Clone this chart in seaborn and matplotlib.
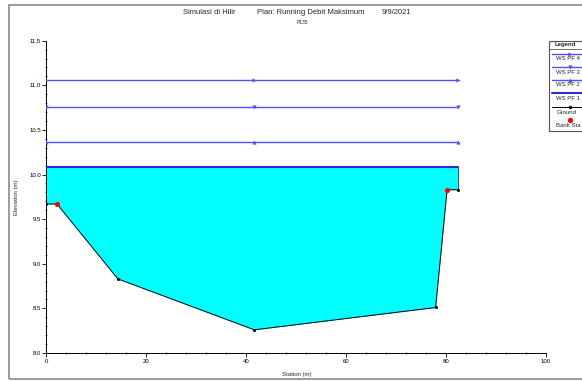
import matplotlib
matplotlib.use("Agg")
import matplotlib.pyplot as plt
import matplotlib.lines as mlines
import matplotlib.patches as mpatches
from matplotlib.ticker import MultipleLocator
import seaborn as sns

# Cross section geometry (station m, elevation m)
station = [0.0, 2.1, 14.3, 41.6, 77.9, 80.2, 82.4]
ground = [9.67, 9.67, 8.83, 8.26, 8.51, 9.83, 9.83]

# Bank stations
bank_station = [2.1, 80.2]
bank_elev = [9.67, 9.83]

# Water surface profiles
ws_station = [0.0, 41.6, 82.4]
ws_names = ["WS PF 4", "WS PF 3", "WS PF 2", "WS PF 1"]
ws_elev = [11.06, 10.76, 10.37, 10.08]
ws_markers = [">", "v", "^", None]

W, H = 582, 381
sns.set_theme(style="white")
plt.rcParams["font.family"] = ["Liberation Sans", "DejaVu Sans"]

fig = plt.figure(figsize=(W / 100, H / 100), dpi=100)
ax = fig.add_axes([46.5 / W, 1 - 353 / H, (546 - 46.5) / W, (353 - 40.7) / H])


def px(x, y):
    return x / W, 1 - y / H


# water body below the lowest profile
ax.fill_between(station, ground, ws_elev[-1], color="#00ffff", linewidth=0, zorder=1)
ax.vlines(station[-1], ground[-1], ws_elev[-1], color="#333333", lw=0.6, zorder=2)

ws_colors = ["#5050ff", "#5050ff", "#5050ff", "#2a2ad8"]
ws_widths = [1.0, 1.0, 1.0, 1.5]
for name, elev, mk, col, lw in zip(ws_names, ws_elev, ws_markers, ws_colors, ws_widths):
    sns.lineplot(x=ws_station, y=[elev] * len(ws_station), ax=ax, color=col,
                 linewidth=lw, marker=mk, markersize=3, markeredgewidth=0,
                 estimator=None, sort=False, zorder=3)

sns.lineplot(x=station, y=ground, ax=ax, color="black", linewidth=0.7,
             marker="o", markersize=2.2, markeredgewidth=0,
             estimator=None, sort=False, zorder=4)
sns.scatterplot(x=bank_station, y=bank_elev, ax=ax, color="red", s=14,
                linewidth=0, zorder=5)

ax.set_xlim(0, 100)
ax.set_ylim(8.0, 11.5)
ax.xaxis.set_major_locator(MultipleLocator(20))
ax.xaxis.set_minor_locator(MultipleLocator(4))
ax.yaxis.set_major_locator(MultipleLocator(0.5))
ax.yaxis.set_minor_locator(MultipleLocator(0.1))
ax.xaxis.set_major_formatter(matplotlib.ticker.FormatStrFormatter("%d"))
ax.yaxis.set_major_formatter(matplotlib.ticker.FormatStrFormatter("%.1f"))
ax.tick_params(which="major", direction="out", length=3, width=0.6,
               labelsize=4.3, pad=1, colors="black", left=True, bottom=True)
ax.tick_params(which="minor", direction="inout", length=2, width=0.6,
               left=True, bottom=True)
for s in ("top", "right"):
    ax.spines[s].set_visible(False)
for s in ("left", "bottom"):
    ax.spines[s].set_color("black")
    ax.spines[s].set_linewidth(0.7)
ax.set_xlabel("Station (m)", fontsize=4.3, labelpad=6)
ax.set_ylabel("Elevation (m)", fontsize=4.3, labelpad=7)
ax.set_facecolor("white")

# heading
fig.text(*px(183, 13), "Simulasi di Hilir", fontsize=5.5, ha="left", va="center")
fig.text(*px(257, 13), "Plan: Running Debit Maksimum", fontsize=5.5, ha="left", va="center")
fig.text(*px(382, 13), "9/9/2021", fontsize=5.5, ha="left", va="center")
fig.text(*px(302, 23), "P135", fontsize=3.6, ha="center", va="center")

# outer frame
fig.patches.append(mpatches.Rectangle(px(9, 379), (W + 20 - 9) / W, (379 - 5) / H,
                                      transform=fig.transFigure, fill=False,
                                      edgecolor="#8a8a8a", linewidth=1.2))

# legend panel
fig.patches.append(mpatches.Rectangle(px(549, 131), 60 / W, 90 / H,
                                      transform=fig.transFigure, fill=False,
                                      edgecolor="#555555", linewidth=0.8))
fig.text(*px(555, 44.5), "Legend", fontsize=4.3, fontweight="bold", ha="left", va="center")
fig.lines.append(mlines.Line2D([px(549, 0)[0], 1.05], [px(0, 48.5)[1]] * 2,
                               transform=fig.transFigure, color="#555555", lw=0.6))

rows = [54, 67.3, 80, 93]
for name, mk, col, lw, yy in zip(ws_names, ws_markers, ws_colors, ws_widths, rows):
    fig.lines.append(mlines.Line2D([px(552, 0)[0], 1.05], [px(0, yy)[1]] * 2,
                                   transform=fig.transFigure, color=col, lw=lw))
    if mk:
        fig.lines.append(mlines.Line2D([px(570, 0)[0]], [px(0, yy)[1]],
                                       transform=fig.transFigure, color=col,
                                       marker=mk, markersize=3, markeredgewidth=0))
    fig.text(*px(556, yy + 5), name, fontsize=4.3, ha="left", va="center")

fig.lines.append(mlines.Line2D([px(552, 0)[0], 1.05], [px(0, 107)[1]] * 2,
                               transform=fig.transFigure, color="black", lw=0.7))
fig.lines.append(mlines.Line2D([px(570, 0)[0]], [px(0, 107)[1]], transform=fig.transFigure,
                               color="black", marker="o", markersize=2.5, markeredgewidth=0))
fig.text(*px(557, 112), "Ground", fontsize=4.3, ha="left", va="center")
fig.lines.append(mlines.Line2D([px(570, 0)[0]], [px(0, 119.5)[1]], transform=fig.transFigure,
                               color="red", marker="o", markersize=3.8, markeredgewidth=0))
fig.text(*px(556, 125.5), "Bank Sta", fontsize=4.3, ha="left", va="center")

fig.savefig("out.png", dpi=100, facecolor="white")
